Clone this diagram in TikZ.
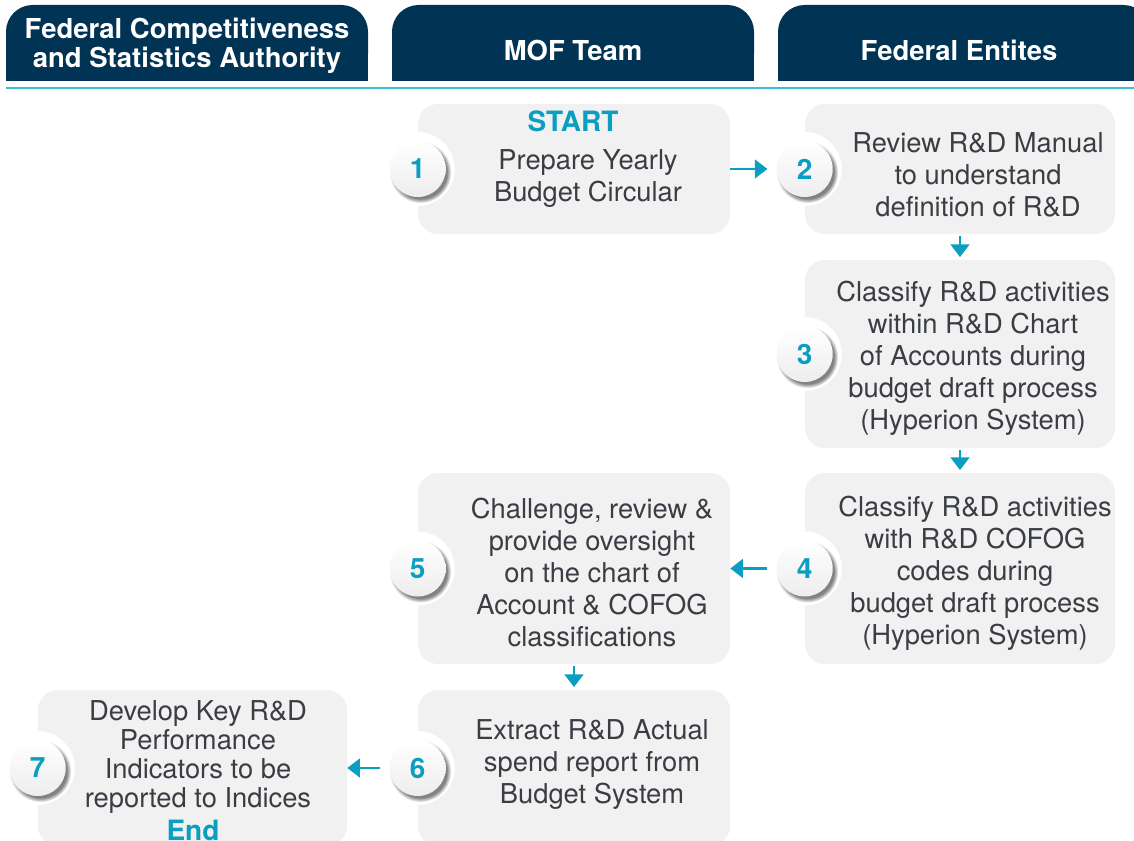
\documentclass[tikz,border=0pt]{standalone}
\usepackage{fontspec}
\setmainfont{TeX Gyre Heros}
\usetikzlibrary{arrows.meta,shadows}
\definecolor{hdr}{HTML}{003354}
\definecolor{accent}{HTML}{0A9FC0}
\definecolor{boxbg}{HTML}{F1F1F1}
\definecolor{txtc}{HTML}{3A3D44}
\definecolor{rulec}{HTML}{3CBFD3}
\begin{document}
\begin{tikzpicture}[x=0.75pt,y=-0.75pt,
  box/.style={fill=boxbg, rounded corners=15pt, inner sep=0pt},
  halo/.style={circle, fill=white, minimum size=55.5pt, inner sep=0pt},
  num/.style={circle, minimum size=42pt, inner sep=0pt, top color=white, bottom color=black!7,
    font=\fontsize{21}{21}\selectfont\bfseries, text=accent,
    circular drop shadow={shadow xshift=1.8pt, shadow yshift=-2.2pt, fill=black!75, opacity=0.65}},
  bodytxt/.style={align=center, text=txtc, font=\fontsize{20.5}{24}\selectfont},
  acctxt/.style={text=accent, font=\fontsize{21}{21}\selectfont\bfseries},
  hdrtxt/.style={align=center, text=white, font=\fontsize{20.6}{21.5}\selectfont\bfseries},
  arr/.style={draw=accent, line width=1.9pt, -{Triangle[length=9.5pt,width=14pt]}}]
\useasboundingbox (0,0) rectangle (1134,841);
\clip (0,0) rectangle (1134,841);
% headers
\fill[hdr, rounded corners=20pt] (6,5) rectangle (368,81);
\fill[hdr] (6,40) rectangle (368,81);
\fill[hdr, rounded corners=20pt] (392,5) rectangle (754,81);
\fill[hdr] (392,40) rectangle (754,81);
\fill[hdr, rounded corners=20pt] (778,5) rectangle (1150,81);
\fill[hdr] (778,40) rectangle (1150,81);
\node[hdrtxt] (H1) at (187,46) {Federal Competitiveness\\and Statistics Authority};
\node[hdrtxt] (H2) at (573,50) {MOF Team};
\node[hdrtxt] (H3) at (959,50) {Federal Entites};
\draw[rulec, line width=1.5pt] (6,88) -- (1134,88);
% boxes
\node[box, minimum width=234pt, minimum height=97.5pt] (b1) at (574,169) {};
\node[box, minimum width=232.5pt, minimum height=97.5pt] (b2) at (960,169) {};
\node[box, minimum width=232.5pt, minimum height=141pt] (b3) at (960,354) {};
\node[box, minimum width=232.5pt, minimum height=143.25pt] (b4) at (960,568.5) {};
\node[box, minimum width=234pt, minimum height=143.25pt] (b5) at (574,568.5) {};
\node[box, minimum width=234pt, minimum height=117pt] (b6) at (574,768) {};
\node[box, minimum width=231.75pt, minimum height=117pt] (b7) at (192.5,768) {};
% halos and numbers
\foreach \i in {1,...,7} {
  \node[halo] (h\i) at (b\i.west) {};
}
\foreach \i in {1,...,7} {
  \node[num] (c\i) at (b\i.west) {\i};
}
% texts
\node[acctxt] (start) at (573,121) {START};
\node[bodytxt] (t1) at (588,179) {Prepare Yearly\\Budget Circular};
\node[bodytxt] (t2) at (978,175) {Review R\&D Manual\\to understand\\definition of R\&D};
\node[bodytxt] (t3) at (973,358) {Classify R\&D activities\\within R\&D Chart\\of Accounts during\\budget draft process\\(Hyperion System)};
\node[bodytxt] (t4) at (975,573) {Classify R\&D activities\\with R\&D COFOG\\codes during\\budget draft process\\(Hyperion System)};
\node[bodytxt] (t5) at (592,572) {Challenge, review \&\\provide oversight\\on the chart of\\Account \& COFOG\\classifications};
\node[bodytxt] (t6) at (592,765) {Extract R\&D Actual\\spend report from\\Budget System};
\node[bodytxt, font=\fontsize{20.5}{21.75}\selectfont] (t7) at (198,757) {Develop Key R\&D\\Performance\\Indicators to be\\reported to Indices};
\node[acctxt] (end) at (193,830) {End};
% arrows
\draw[arr] (b1.east) -- (h2.west);
\draw[arr, shorten <=1.5pt, shorten >=2pt] (b2.south) -- (b3.north);
\draw[arr, shorten <=1.5pt, shorten >=2pt] (b3.south) -- (b4.north);
\draw[arr] (h4.west) -- (b5.east);
\draw[arr, shorten <=1.5pt, shorten >=2pt] (b5.south) -- (b6.north);
\draw[arr] (h6.west) -- (b7.east);
\end{tikzpicture}
\end{document}
